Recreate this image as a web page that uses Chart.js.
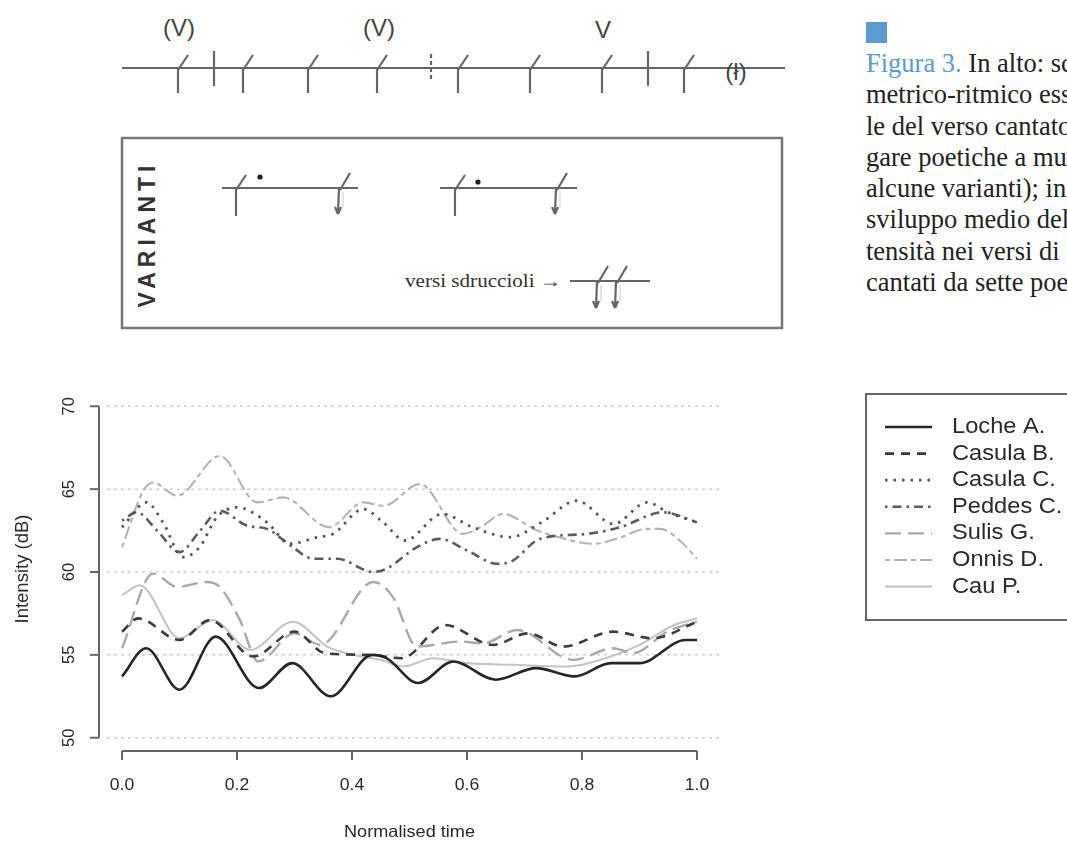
<!DOCTYPE html>
<html><head><meta charset="utf-8">
<script src="https://cdn.jsdelivr.net/npm/chart.js@4.4.1/dist/chart.umd.min.js"></script>
<style>
html,body{margin:0;padding:0;background:#fff;width:1067px;height:843px;overflow:hidden;position:relative}
#notation{position:absolute;left:0;top:0}
#caption{position:absolute;left:866px;top:0;width:201px;height:340px;overflow:hidden;font-family:"Liberation Serif",serif;font-size:26.5px;line-height:31.3px;color:#222}
#caption .sq{position:absolute;left:0;top:22px;width:21px;height:21px;background:#5b9bd0}
#caption .txt{position:absolute;left:0;top:48px;white-space:nowrap}
#chartWrap{position:absolute;left:0;top:360px;width:1067px;height:483px}
</style></head>
<body>
<svg id="notation" width="860" height="345" xmlns="http://www.w3.org/2000/svg"></svg>
<div id="caption"><div class="sq"></div><div class="txt"><span style="color:#5b9bd0">Figura 3.</span> In alto: schema<br>metrico-ritmico essenzia-<br>le del verso cantato nelle<br>gare poetiche a mutetus<br>alcune varianti); in basso:<br>sviluppo medio dell'in-<br>tensità nei versi di mutetu<br>cantati da sette poeti.</div></div>
<div id="chartWrap"><canvas id="c" width="1067" height="483"></canvas></div>
<script>
// ---------- data ----------
const seriesNames = ["Loche A.","Casula B.","Casula C.","Peddes C.","Sulis G.","Onnis D.","Cau P."];
const xTickValues = [0,0.2,0.4,0.6,0.8,1.0];
const xTickLabels = ["0.0","0.2","0.4","0.6","0.8","1.0"];
const yTickValues = [50,55,60,65,70];
const yTickLabels = ["50","55","60","65","70"];

const locheT = [0,0.042,0.10,0.163,0.238,0.296,0.363,0.435,0.46,0.515,0.576,0.65,0.72,0.787,0.85,0.90,0.98,1.0];
const locheDb = [53.7,55.4,52.9,56.1,53.0,54.5,52.5,55.0,54.8,53.3,54.6,53.5,54.2,53.7,54.5,54.5,55.9,55.9];

const casulaBT = [0,0.028,0.10,0.153,0.228,0.30,0.353,0.43,0.487,0.562,0.645,0.706,0.767,0.854,0.923,1.0];
const casulaBDb = [56.4,57.2,55.9,57.1,54.9,56.4,55.1,55.0,54.8,56.8,55.6,56.3,55.5,56.4,56.0,57.0];

const casulaCT = [0,0.043,0.071,0.106,0.135,0.165,0.20,0.252,0.292,0.34,0.367,0.42,0.454,0.492,0.557,0.61,0.675,0.73,0.791,0.855,0.913,0.95,1.0];
const casulaCDb = [62.7,64.2,63.0,60.9,61.5,63.3,63.9,63.0,61.7,62.1,62.3,63.8,63.0,61.9,63.5,62.7,62.1,63.0,64.3,62.9,64.2,63.6,63.0];

const peddesT = [0,0.026,0.061,0.10,0.136,0.17,0.217,0.252,0.297,0.332,0.374,0.437,0.46,0.513,0.553,0.60,0.652,0.675,0.727,0.809,0.866,0.941,1.0];
const peddesDb = [63.1,63.6,62.5,61.2,62.5,63.7,62.8,62.6,61.5,60.8,60.8,60.0,60.2,61.5,62.0,61.3,60.5,60.6,62.0,62.3,62.7,63.6,63.0];

const sulisT = [0,0.054,0.096,0.148,0.17,0.205,0.237,0.30,0.345,0.437,0.471,0.513,0.588,0.628,0.687,0.785,0.854,0.889,0.948,1.0];
const sulisDb = [55.4,59.9,59.1,59.4,59.1,57.1,54.6,56.3,55.6,59.4,58.5,55.5,55.8,55.7,56.5,54.7,55.4,55.1,56.4,57.0];

const onnisT = [0,0.037,0.054,0.096,0.17,0.235,0.28,0.36,0.42,0.455,0.518,0.593,0.623,0.663,0.722,0.75,0.82,0.86,0.913,0.936,0.97,1.0];
const onnisDb = [61.5,64.9,65.4,64.6,67.0,64.2,64.5,62.7,64.2,64.0,65.3,62.3,62.7,63.5,62.5,62.2,61.7,62.0,62.6,62.6,61.9,60.8];

const cauT = [0,0.031,0.10,0.158,0.223,0.297,0.357,0.39,0.449,0.49,0.541,0.60,0.68,0.774,0.85,0.90,0.96,1.0];
const cauDb = [58.6,59.2,56.0,57.1,55.3,57.0,55.5,55.1,54.7,54.3,54.8,54.5,54.4,54.3,54.9,55.6,56.8,57.2];

// ---------- styles ----------
const seriesT = [locheT,casulaBT,casulaCT,peddesT,sulisT,onnisT,cauT];
const seriesDb = [locheDb,casulaBDb,casulaCDb,peddesDb,sulisDb,onnisDb,cauDb];
const lineColors = ["#262626","#3c3c3c","#555555","#5c5c5c","#a9a9a9","#b3b3b3","#c4c4c4"];
const lineDashes = [[],[9,7],[2.5,6],[2.5,5,9,5],[16,7],[5,4,13,4],[]];
const lineWidths = [2.6,2.6,2.8,2.6,2.4,2.1,2.1];

// ---------- notation drawing (not data) ----------
(function(){
  const svg = document.getElementById('notation');
  const NS = 'http://www.w3.org/2000/svg';
  function el(tag, attrs, text){const e=document.createElementNS(NS,tag);for(const k in attrs)e.setAttribute(k,attrs[k]);if(text)e.textContent=text;svg.appendChild(e);return e;}
  const st = {stroke:'#666','stroke-width':2.2,fill:'none'};
  function line(x1,y1,x2,y2,extra){el('line',Object.assign({x1,y1,x2,y2},st,extra||{}));}
  function mark(x,y,down){line(x,y+2,x+10,y-13);line(x,y,x,y+down);}
  function arrowMark(x,y,down){line(x,y+2,x+10,y-15);line(x-1,y,x-2,y+down);line(x-2,y+down,x-5,y+down-7);line(x-2,y+down,x+1,y+down-7);line(x+3,y+4,x+3,y+down-6,{stroke:'#ccc','stroke-width':1});}
  // top line
  line(122,68,785,68);
  [178,243,308,377,458,530,602,684].forEach(x=>mark(x,68,25));
  [214,648].forEach(x=>line(x,51,x,86));
  line(431,54,431,80,{'stroke-dasharray':'4 3'});
  const tf = {'font-family':'Liberation Sans, Arial, sans-serif','font-size':24,fill:'#444','text-anchor':'middle'};
  el('text',Object.assign({x:179,y:36},tf),'(V)');
  el('text',Object.assign({x:379,y:36},tf),'(V)');
  el('text',Object.assign({x:603,y:38},tf),'V');
  el('text',Object.assign({x:736,y:80},tf,{'font-size':24}),'(ł)');
  // variants box
  el('rect',{x:122,y:138,width:660,height:190,stroke:'#777','stroke-width':2.5,fill:'none'});
  el('text',{x:0,y:0,transform:'translate(155,234) rotate(-90)','font-family':'Liberation Sans, Arial, sans-serif','font-size':23,'font-weight':'bold','letter-spacing':5,fill:'#333','text-anchor':'middle'},'VARIANTI');
  line(222,188,358,188); mark(236,188,28); el('circle',{cx:260,cy:177,r:2.6,fill:'#222'}); arrowMark(340,188,26);
  line(440,188,577,188); mark(455,188,28); el('circle',{cx:478,cy:182,r:2.6,fill:'#222'}); arrowMark(557,188,26);
  el('text',{x:405,y:287,'font-family':'Liberation Serif, serif','font-size':18,fill:'#333',textLength:156,lengthAdjust:'spacingAndGlyphs'},'versi sdruccioli →');
  line(570,281,650,281); arrowMark(598,281,27); arrowMark(617,281,27);
})();

// ---------- chart ----------
const datasets = seriesNames.map((name,i)=>({
  label:name,
  data: seriesT[i].map((t,j)=>({x:t,y:seriesDb[i][j]})),
  borderColor:lineColors[i], borderDash:lineDashes[i], borderWidth:lineWidths[i],
  pointRadius:0, fill:false, cubicInterpolationMode:'monotone'
}));

function drawText(ctx,s,x,y,size,o){
  o=o||{};ctx.save();ctx.translate(x,y);if(o.rot)ctx.rotate(-Math.PI/2);ctx.scale(o.sx||1,1);
  ctx.font=(o.weight||'normal')+' '+size+'px "Liberation Sans", Arial, sans-serif';
  ctx.textAlign=o.align||'center';ctx.textBaseline='middle';ctx.fillStyle=o.color||'#2a2a2a';
  ctx.fillText(s,0,0);ctx.restore();
}

const rStyle = {
  id:'rStyle',
  beforeDatasetsDraw(chart){
    const {ctx,chartArea:a,scales:{x,y}}=chart;
    ctx.save();ctx.strokeStyle='#cfcfcf';ctx.lineWidth=1.5;ctx.setLineDash([3,4]);
    yTickValues.forEach(v=>{const py=y.getPixelForValue(v);ctx.beginPath();ctx.moveTo(a.left+8,py);ctx.lineTo(a.right,py);ctx.stroke();});
    ctx.restore();
  },
  afterDraw(chart){
    const {ctx,chartArea:a,scales:{x,y}}=chart;
    ctx.save();ctx.strokeStyle='#666';ctx.lineWidth=2;ctx.setLineDash([]);
    // y axis
    const y0=y.getPixelForValue(yTickValues[0]), y1=y.getPixelForValue(yTickValues[yTickValues.length-1]);
    ctx.beginPath();ctx.moveTo(a.left,y0);ctx.lineTo(a.left,y1);ctx.stroke();
    yTickValues.forEach((v,i)=>{const py=y.getPixelForValue(v);ctx.beginPath();ctx.moveTo(a.left-9,py);ctx.lineTo(a.left,py);ctx.stroke();
      drawText(ctx,yTickLabels[i],a.left-30,py,16.5,{rot:true});});
    // x axis
    const x0=x.getPixelForValue(xTickValues[0]), x1=x.getPixelForValue(xTickValues[xTickValues.length-1]);
    ctx.beginPath();ctx.moveTo(x0,a.bottom);ctx.lineTo(x1,a.bottom);ctx.stroke();
    xTickValues.forEach((v,i)=>{const px=x.getPixelForValue(v);ctx.beginPath();ctx.moveTo(px,a.bottom);ctx.lineTo(px,a.bottom+9);ctx.stroke();
      drawText(ctx,xTickLabels[i],px,a.bottom+35,16,{sx:1.1});});
    drawText(ctx,'Normalised time',(a.left+a.right)/2,a.bottom+81,16.5,{sx:1.1});
    drawText(ctx,'Intensity (dB)',a.left-76,(a.top+a.bottom)/2-3,18.5,{rot:true});
    // legend
    const lx=866, ly=34, lh=226;
    ctx.strokeStyle='#666';ctx.lineWidth=2;ctx.strokeRect(lx,ly,260,lh);
    chart.data.datasets.forEach((ds,i)=>{
      const ry=ly+33+i*26.6;
      ctx.save();ctx.strokeStyle=ds.borderColor;ctx.lineWidth=ds.borderWidth;ctx.setLineDash(ds.borderDash);
      ctx.beginPath();ctx.moveTo(885,ry);ctx.lineTo(932,ry);ctx.stroke();ctx.restore();
      drawText(ctx,ds.label,952,ry,21.5,{sx:1.1,align:'left'});
    });
    ctx.restore();
  }
};

new Chart(document.getElementById('c'),{
  type:'line',
  data:{datasets},
  options:{
    responsive:false, animation:false,
    layout:{padding:{left:99,right:347,top:33,bottom:92}},
    plugins:{legend:{display:false},tooltip:{enabled:false}},
    scales:{
      x:{type:'linear',min:-0.04,max:1.04,display:false},
      y:{type:'linear',min:49.2,max:70.8,display:false}
    }
  },
  plugins:[rStyle]
});
</script>
</body></html>
